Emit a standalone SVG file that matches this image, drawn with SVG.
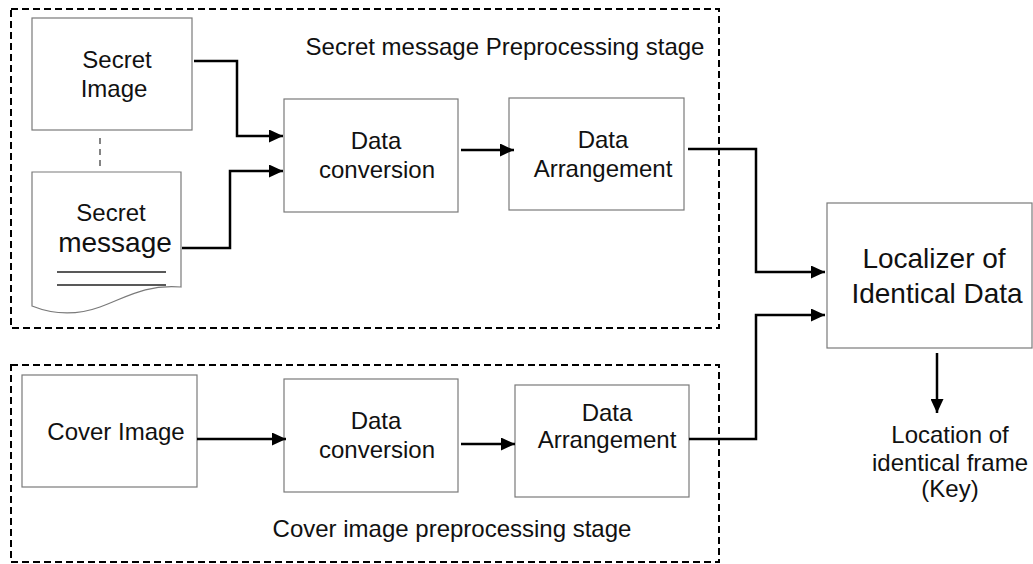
<svg xmlns="http://www.w3.org/2000/svg" width="1033" height="564" viewBox="0 0 1033 564">
<style>
.box{fill:#fff;stroke:#7a7a7a;stroke-width:1.2}
.stage{fill:none;stroke:#000;stroke-width:2;stroke-dasharray:7 4}
.t{font-family:"Liberation Sans",Arial,sans-serif;font-size:24px;fill:#111;text-anchor:middle}
.big{font-size:28px}
.conn{fill:none;stroke:#000;stroke-width:2.5;marker-end:url(#ah)}
.plain{fill:none;stroke:#000;stroke-width:2.5}
</style>
<defs>
<marker id="ah" markerUnits="userSpaceOnUse" markerWidth="15" markerHeight="13" refX="14" refY="6.5" orient="auto">
<path d="M0,0 L14,6.5 L0,13 Z" fill="#000"/>
</marker>
</defs>
<rect width="1033" height="564" fill="#fff"/>

<g id="stage-secret">
<rect class="stage" x="11" y="9" width="708" height="319"/>
<text class="t" x="505" y="55">Secret message Preprocessing stage</text>
</g>
<g id="stage-cover">
<rect class="stage" x="11" y="365" width="708" height="197"/>
<text class="t" x="452" y="537">Cover image preprocessing stage</text>
</g>

<g id="secret-image">
<rect class="box" x="32" y="18" width="160" height="112"/>
<text class="t" x="117" y="68">Secret</text>
<text class="t" x="114" y="97">Image</text>
</g>
<g id="secret-message">
<path class="box" d="M32,172 H181 V287 C145,284 125,298 100,307 C75,316 52,314 32,306 Z"/>
<text class="t" x="111" y="221">Secret</text>
<text class="t big" x="115" y="252">message</text>
<line x1="57" y1="272" x2="166" y2="272" stroke="#222" stroke-width="1.6"/>
<line x1="57" y1="285" x2="166" y2="285" stroke="#222" stroke-width="1.6"/>
</g>
<g id="data-conversion-1">
<rect class="box" x="284" y="99" width="174" height="113"/>
<text class="t" x="376" y="149">Data</text>
<text class="t" x="377" y="178">conversion</text>
</g>
<g id="data-arrangement-1">
<rect class="box" x="509" y="98" width="175" height="112"/>
<text class="t" x="603" y="148">Data</text>
<text class="t" x="603" y="177">Arrangement</text>
</g>
<g id="cover-image">
<rect class="box" x="22" y="375" width="175" height="112"/>
<text class="t" x="116" y="440">Cover Image</text>
</g>
<g id="data-conversion-2">
<rect class="box" x="284" y="379" width="174" height="113"/>
<text class="t" x="376" y="429">Data</text>
<text class="t" x="377" y="458">conversion</text>
</g>
<g id="data-arrangement-2">
<rect class="box" x="515" y="385" width="174" height="112"/>
<text class="t" x="607" y="421">Data</text>
<text class="t" x="607" y="448">Arrangement</text>
</g>
<g id="localizer">
<rect class="box" x="827" y="203" width="205" height="145"/>
<text class="t big" x="934" y="268">Localizer of</text>
<text class="t big" x="937" y="303">Identical Data</text>
</g>
<g id="output-key">
<text class="t" x="950" y="443">Location of</text>
<text class="t" x="950" y="471">identical frame</text>
<text class="t" x="950" y="497">(Key)</text>
</g>

<g id="connectors">
<line x1="100" y1="138" x2="100" y2="168" stroke="#333" stroke-width="1.2" stroke-dasharray="6 5"/>
<path class="conn" d="M194,61 H237 V136 H283"/>
<path class="conn" d="M182,248 H230 V171 H283"/>
<path class="conn" d="M461,150 H514"/>
<path class="conn" d="M688,149 H756 V272 H825"/>
<path class="conn" d="M197,439 H286"/>
<path class="conn" d="M461,444 H515"/>
<path class="conn" d="M689,439 H756 V315 H825"/>
<path class="conn" d="M937,353 V413"/>
</g>
</svg>
